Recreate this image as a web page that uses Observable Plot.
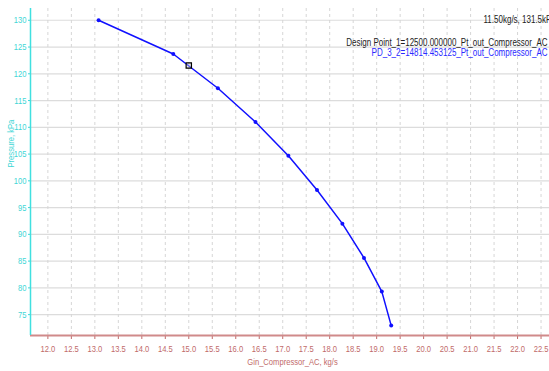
<!DOCTYPE html>
<html>
<head>
<meta charset="utf-8">
<script src="https://cdn.jsdelivr.net/npm/d3@7"></script>
<script src="https://cdn.jsdelivr.net/npm/@observablehq/plot@0.6"></script>
<style>
  html, body { margin: 0; padding: 0; background: #fff; overflow: hidden; }
  #chart svg { display: block; }
</style>
</head>
<body>
<div id="chart"></div>
<script>
const flow = [13.08, 14.67, 15.62, 16.42, 17.12, 17.73, 18.27, 18.73, 19.11, 19.31];
const pressure = [130.0, 123.7, 117.3, 111.0, 104.7, 98.3, 92.0, 85.6, 79.3, 72.95];
const designFlow = [15.0];
const designPressure = [121.55];
const xTicks = [12.0, 12.5, 13.0, 13.5, 14.0, 14.5, 15.0, 15.5, 16.0, 16.5, 17.0, 17.5, 18.0, 18.5, 19.0, 19.5, 20.0, 20.5, 21.0, 21.5, 22.0, 22.5];
const yTicks = [75, 80, 85, 90, 95, 100, 105, 110, 115, 120, 125, 130];
const xLabel = "Gin_Compressor_AC, kg/s";
const yLabel = "Pressure, kPa";
const cursorText = "11.50kg/s, 131.5kPa";
const legendDesign = "Design Point_1=12500.000000_Pt_out_Compressor_AC";
const legendCurve = "PD_3_2=14814.453125_Pt_out_Compressor_AC";

const curve = flow.map((f, i) => ({flow: f, pressure: pressure[i]}));
const design = designFlow.map((f, i) => ({flow: f, pressure: designPressure[i]}));

const xDomain = [11.63, 22.68];
const yDomain = [71.1, 132.2];
const xColor = "#bf6a6a";
const yColor = "#3fd6d6";
const font = "'Liberation Sans', Arial, sans-serif";

const chart = Plot.plot({
  width: 549,
  height: 371,
  marginLeft: 30,
  marginTop: 8,
  marginBottom: 36,
  marginRight: 0,
  style: {fontFamily: font, fontSize: "9px", background: "#fff", overflow: "hidden"},
  x: {domain: xDomain, axis: null},
  y: {domain: yDomain, axis: null},
  marks: [
    Plot.ruleY(yTicks, {stroke: "#dcdcdc", strokeWidth: 1.2}),
    Plot.ruleX(xTicks, {stroke: "#d6d6d6", strokeWidth: 1, strokeDasharray: "3,3"}),
    Plot.axisX({ticks: xTicks, tickFormat: d => d.toFixed(1), stroke: xColor, color: xColor, fill: xColor, tickSize: 4, tickPadding: 6, label: null, fontSize: 9.5}),
    Plot.axisY({ticks: yTicks, tickFormat: d => String(d), stroke: yColor, color: yColor, fill: yColor, tickSize: 2, tickPadding: 2, label: null, fontSize: 9.5}),
    Plot.ruleY([yDomain[0]], {stroke: "#d08a8a", strokeWidth: 2}),
    Plot.ruleX([xDomain[0]], {stroke: "#40e0e0", strokeWidth: 1.5}),
    Plot.line(curve, {x: "flow", y: "pressure", stroke: "#1010ff", strokeWidth: 1.5}),
    Plot.dot(curve, {x: "flow", y: "pressure", r: 2, fill: "#1010ff", stroke: "none"}),
    Plot.dot(design, {x: "flow", y: "pressure", symbol: "square", r: 3, stroke: "#000", strokeWidth: 1.2, fill: "#cfcfcf", fillOpacity: 0.4}),
    Plot.text([xLabel], {frameAnchor: "bottom", dx: 2.5, dy: 29, text: d => d, fill: xColor, fontSize: 9.5}),
    Plot.text([yLabel], {frameAnchor: "left", dx: -20, dy: -4.5, rotate: -90, text: d => d, fill: yColor, fontSize: 9.5}),
    Plot.text([cursorText], {frameAnchor: "top-left", dx: 453, dy: 7, textAnchor: "start", text: d => d, fill: "#222", fontSize: 10}),
    Plot.text([legendDesign], {frameAnchor: "top-right", dx: -2, dy: 30, textAnchor: "end", text: d => d, fill: "#222", fontSize: 10}),
    Plot.text([legendCurve], {frameAnchor: "top-right", dx: -2, dy: 40, textAnchor: "end", text: d => d, fill: "#2a2aff", fontSize: 10})
  ]
});
document.getElementById("chart").appendChild(chart);
// emulate the narrow font of the original by horizontally condensing every text
chart.querySelectorAll("text").forEach(t => {
  const len = t.getComputedTextLength();
  if (len > 0) {
    t.setAttribute("textLength", (len * 0.8).toFixed(2));
    t.setAttribute("lengthAdjust", "spacingAndGlyphs");
  }
});
</script>
</body>
</html>
